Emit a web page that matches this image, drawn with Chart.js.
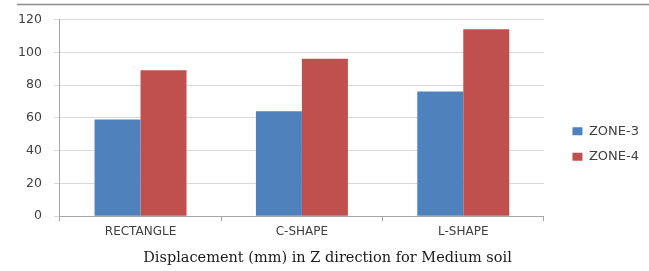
<!DOCTYPE html>
<html>
<head>
<meta charset="utf-8">
<script src="https://cdn.jsdelivr.net/npm/chart.js@4"></script>
<style>
  html, body { margin: 0; padding: 0; background: #fff; }
  #wrap { width: 649px; height: 271px; position: relative; }
</style>
</head>
<body>
<div id="wrap"><canvas id="chartZ"></canvas></div>
<script>
// data
const shapes = ["RECTANGLE", "C-SHAPE", "L-SHAPE"];
const zone3 = [59, 64, 76];
const zone4 = [89, 96, 114];
const yTicks = [0, 20, 40, 60, 80, 100, 120];

// garis tipis di atas (bingkai)
const topLine = {
    id: 'topLine',
    beforeDraw(chart) {
        const ctx = chart.ctx;
        ctx.save();
        ctx.strokeStyle = '#8c8c8c';
        ctx.lineWidth = 1.5;
        ctx.beginPath();
        ctx.moveTo(17, 4.5);
        ctx.lineTo(chart.width, 4.5);
        ctx.stroke();
        ctx.restore();
    }
};

new Chart(document.getElementById('chartZ'), {
    type: 'bar',
    data: {
        labels: shapes,
        datasets: [
            { label: 'ZONE-3', data: zone3, backgroundColor: '#4f81bd' },
            { label: 'ZONE-4', data: zone4, backgroundColor: '#c0504d' }
        ]
    },
    options: {
        responsive: true,
        maintainAspectRatio: false,
        animation: false,
        layout: { padding: { top: 19, left: 6, right: 0, bottom: 2 } },
        datasets: { bar: { categoryPercentage: 0.57, barPercentage: 1.0 } },
        scales: {
            x: {
                grid: { drawOnChartArea: false, color: '#a6a6a6', tickLength: 5 },
                border: { color: '#a6a6a6' },
                ticks: { color: '#404040', font: { family: 'DejaVu Sans', size: 12 }, padding: 3 }
            },
            y: {
                min: 0, max: 120,
                afterBuildTicks(axis) { axis.ticks = yTicks.map(v => ({ value: v })); },
                grid: { color: '#d9d9d9', tickLength: 6 },
                border: { color: '#a6a6a6' },
                ticks: { color: '#404040', font: { family: 'DejaVu Sans', size: 12.5 }, padding: 12 }
            },
            // sumbu kosong untuk jarak antara plot dan legend
            gap: {
                type: 'linear',
                position: 'right',
                display: true,
                grid: { display: false },
                border: { display: false },
                ticks: { display: false },
                afterFit(scale) { scale.width = 16; }
            }
        },
        plugins: {
            legend: {
                position: 'right',
                labels: {
                    boxWidth: 10, boxHeight: 8, padding: 12.5,
                    color: '#404040',
                    font: { family: 'DejaVu Sans', size: 13 }
                }
            },
            title: {
                display: true,
                position: 'bottom',
                text: 'Displacement (mm) in Z direction for Medium soil',
                color: '#1a1a1a',
                font: { family: 'DejaVu Serif', size: 14.5, weight: 'normal' },
                padding: { top: 8, bottom: 2 }
            },
            tooltip: { enabled: false }
        }
    },
    plugins: [topLine]
});
</script>
</body>
</html>
